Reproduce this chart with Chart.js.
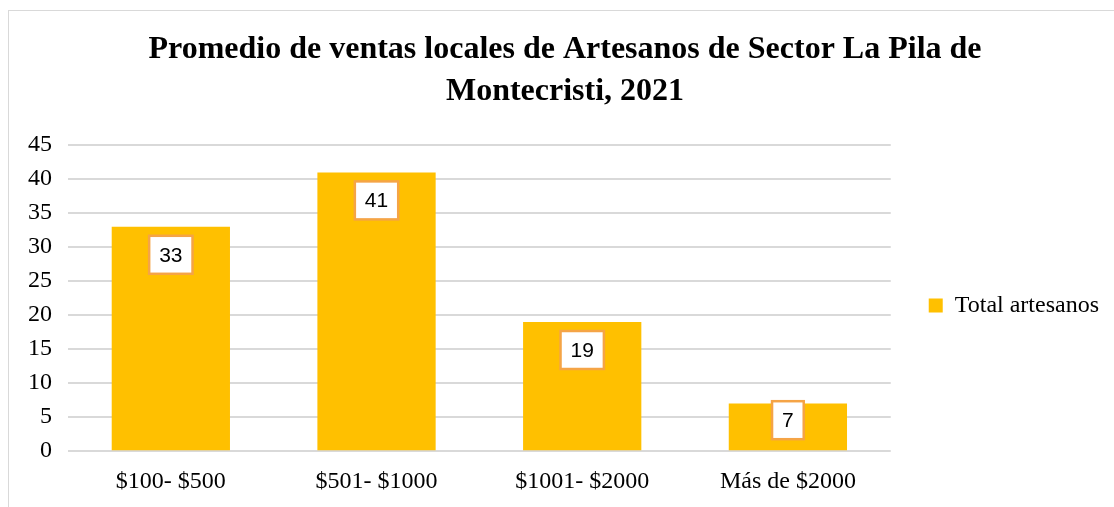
<!DOCTYPE html>
<html>
<head>
<meta charset="utf-8">
<script src="https://cdn.jsdelivr.net/npm/chart.js@4.4.1/dist/chart.umd.min.js"></script>
<style>
  html, body { margin: 0; padding: 0; background: #fff; }
  #frame {
    position: absolute; left: 8px; top: 10px; width: 1200px; height: 600px;
    border: 1px solid #d9d9d9; box-sizing: border-box;
  }
  #wrap { position: absolute; left: 0; top: 0; width: 1114px; height: 507px; }
</style>
</head>
<body>
<div id="frame"></div>
<div id="wrap"><canvas id="chart"></canvas></div>
<script>
const categories = ['$100- $500', '$501- $1000', '$1001- $2000', 'Más de $2000'];
const totalArtesanos = [33, 41, 19, 7];
const yTicks = [0, 5, 10, 15, 20, 25, 30, 35, 40, 45];

const titleLines = [
  'Promedio de ventas locales de Artesanos de Sector La Pila de',
  'Montecristi, 2021',
];

const serif = '"Liberation Serif", "Times New Roman", serif';

// white boxed value labels, placed inside the top of each bar
const valueBoxes = {
  id: 'valueBoxes',
  afterDatasetsDraw(chart) {
    const { ctx } = chart;
    const meta = chart.getDatasetMeta(0);
    ctx.save();
    ctx.font = '21px "Liberation Sans", Arial, sans-serif';
    ctx.textAlign = 'center';
    ctx.textBaseline = 'middle';
    meta.data.forEach((bar, i) => {
      const text = String(totalArtesanos[i]);
      const w = ctx.measureText(text).width + 20;
      const h = 38;
      const top = Math.min(bar.y + 9, bar.base - 11 - h);
      const left = bar.x - w / 2;
      ctx.fillStyle = '#ffffff';
      ctx.fillRect(left, top, w, h);
      ctx.strokeStyle = '#f5a446';
      ctx.lineWidth = 2.5;
      ctx.strokeRect(left, top, w, h);
      ctx.fillStyle = '#000000';
      ctx.fillText(text, bar.x, top + h / 2 + 1);
    });
    ctx.restore();
  },
};

new Chart(document.getElementById('chart'), {
  type: 'bar',
  data: {
    labels: categories,
    datasets: [
      {
        label: 'Total artesanos',
        data: totalArtesanos,
        backgroundColor: '#ffc000',
        borderWidth: 0,
        barPercentage: 0.575,
        categoryPercentage: 1,
      },
    ],
  },
  options: {
    responsive: true,
    maintainAspectRatio: false,
    animation: false,
    layout: { padding: { left: 21, right: 5, top: 29, bottom: 3 } },
    plugins: {
      title: {
        display: true,
        text: titleLines,
        color: '#000',
        font: { family: serif, size: 32, weight: 'bold', lineHeight: 1.3 },
        padding: { top: 0, bottom: 33 },
      },
      legend: {
        position: 'right',
        fullSize: false,
        title: { display: true, text: ' ', padding: 0, font: { size: 12 } },
        labels: {
          color: '#000',
          font: { family: serif, size: 24 },
          boxWidth: 14,
          boxHeight: 14,
          padding: 38,
        },
      },
      tooltip: { enabled: false },
    },
    scales: {
      x: {
        grid: { display: false },
        border: { display: false },
        ticks: {
          color: '#000',
          font: { family: serif, size: 24 },
          padding: 8,
          maxRotation: 0,
        },
      },
      y: {
        min: 0,
        max: 45,
        afterBuildTicks: (axis) => {
          axis.ticks = yTicks.map(v => ({ value: v }));
        },
        afterFit: (axis) => { axis.width = 47; },
        grid: { color: '#d9d9d9', lineWidth: 2, drawTicks: false },
        border: { display: false },
        ticks: {
          color: '#000',
          font: { family: serif, size: 24 },
          padding: 16,
        },
      },
    },
  },
  plugins: [valueBoxes],
});
</script>
</body>
</html>
